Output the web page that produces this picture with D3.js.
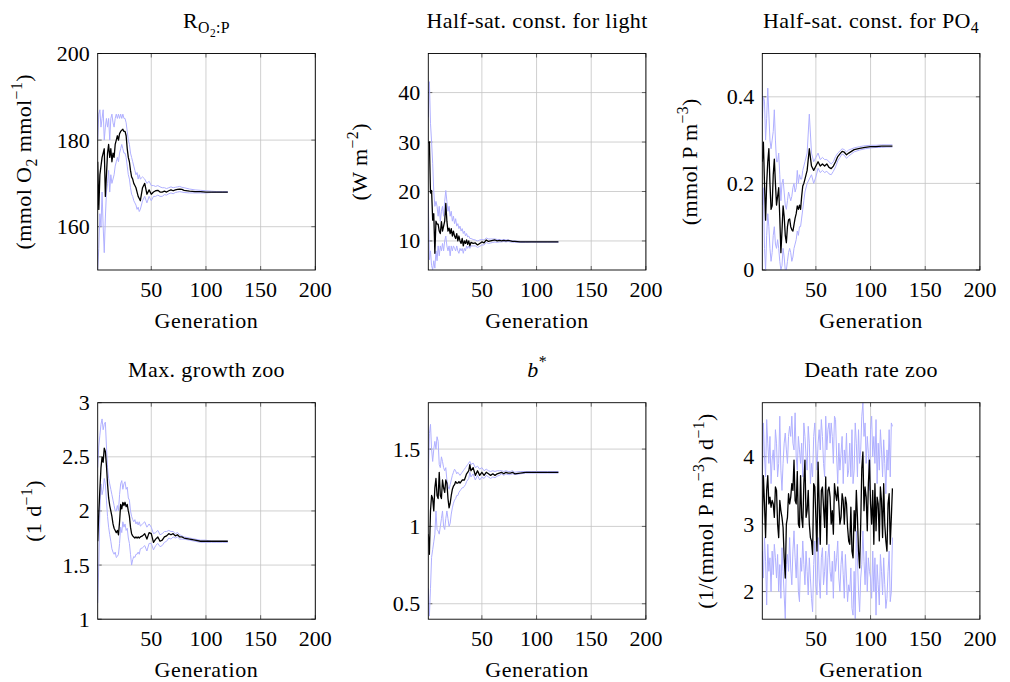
<!DOCTYPE html>
<html>
<head>
<meta charset="utf-8">
<script src="https://cdn.jsdelivr.net/npm/d3@7"></script>
<style>
  body { margin: 0; background: #fff; }
  text { font-family: "Liberation Serif", "Times New Roman", serif; fill: #000; }
</style>
</head>
<body>
<svg id="chart" width="1010" height="682"></svg>
<script>
// generations sampled for the smooth panels (dense early, sparse once converged)
const gens = [1, 2, 3, 4, 5, 6, 7, 8, 9, 10, 11, 12, 13, 14, 15, 16, 17, 18, 19, 20,
  21, 22, 23, 24, 25, 26, 27, 28, 29, 30, 31, 32, 33, 34, 35, 36, 37, 38, 39, 40,
  42, 44, 46, 48, 50, 52, 54, 56, 58, 60, 62, 64, 66, 68, 70, 72, 74, 76, 78, 80,
  85, 90, 95, 100, 105, 110, 115, 120];
// every generation for the noisy death-rate panel
const gensAll = d3.range(1, 121);

// R_O2:P
const rMean = [175, 164, 172, 174, 176, 177, 178, 167, 172, 177, 179, 176, 178, 175, 177, 176, 179, 180, 181, 180,
  181.5, 182, 182.3, 182.5, 182, 182, 181, 178, 176, 175, 173, 171.5, 171, 170, 169.5, 169, 168, 167, 166.5, 166,
  169, 170, 167.5, 168.5, 167.5, 168, 168.3, 168.4, 168, 168, 168.2, 168, 168.3, 168.5, 168.3, 168.5, 168.6, 168.7, 168.6, 168.4,
  168.2, 168.1, 168.1, 168, 168, 168, 168, 168];
const rHi = [180, 186, 187, 183, 185, 187, 180, 183, 185, 183, 185, 180, 185, 186, 184, 183, 185, 186, 185, 186,
  185, 186, 185, 186, 185, 185, 184, 182, 180, 179, 177, 176, 175, 174, 173, 172, 172.5, 171, 172, 171,
  171.5, 171, 170, 170.5, 169.5, 169.5, 169.3, 169.5, 169.2, 169, 169, 168.8, 169, 169.2, 169, 169.1, 169.2, 169.3, 169.1, 169,
  168.7, 168.5, 168.4, 168.3, 168.2, 168.1, 168.1, 168.1];
const rLo = [150, 155, 163, 160, 168, 160, 154, 162, 168, 170, 173, 168, 172, 170, 171, 172, 174, 175, 176, 175,
  177, 178, 179, 178, 177, 177, 176, 174, 172, 171, 169, 167.5, 167, 166, 165.5, 165, 164, 164.5, 163.5, 164,
  166, 167, 165.5, 167, 166, 167, 167, 167.3, 167, 167, 167.4, 167.3, 167.6, 167.8, 167.6, 167.9, 168, 168.1, 168, 167.9,
  167.8, 167.8, 167.8, 167.8, 167.9, 167.9, 167.9, 167.9];

// half-saturation constant for light
const lightMean = [29.8, 30, 19.7, 20.2, 14.2, 15.5, 7.5, 14, 13.4, 13.4, 12, 11.5, 13.9, 12, 13, 14, 17.6, 14, 12, 12.6,
  11.5, 12.5, 11, 12, 11, 10.5, 11.5, 10, 11, 10, 9.5, 10.5, 9, 10, 9.5, 10.2, 9.3, 10, 9, 9.7,
  9.5, 9.6, 9.2, 9.5, 9.8, 9.6, 10.2, 9.9, 10, 10.1, 10.2, 10, 10.1, 10, 10.1, 10, 10.1, 10, 9.9, 9.9,
  9.8, 9.8, 9.8, 9.8, 9.8, 9.8, 9.8, 9.8];
const lightHi = [35, 42.2, 33.8, 30, 25.7, 20, 17, 18, 17, 15, 17, 14, 16, 17, 15, 18, 20.2, 18, 16, 17,
  15, 16, 14, 15, 13.5, 14.5, 13, 13.5, 12.5, 13, 12, 12.5, 11.5, 12, 11, 11.5, 10.8, 11, 10.5, 10.5,
  10.3, 10.2, 10, 10.2, 10.3, 10.2, 10.6, 10.4, 10.4, 10.4, 10.4, 10.3, 10.3, 10.2, 10.3, 10.2, 10.2, 10.1, 10, 10,
  9.9, 9.9, 9.9, 9.85, 9.85, 9.85, 9.85, 9.85];
const lightLo = [18.3, 6.2, 8, 5, 4.2, 6, 4.5, 8, 6, 9, 7, 9, 8, 9.5, 8, 10, 11, 9, 8, 9,
  7, 9, 8, 9, 8.5, 8, 9, 8, 7.5, 8.5, 8, 8.5, 7.5, 8.5, 8, 9, 8.5, 9, 8.5, 9,
  9, 9, 8.7, 8.9, 9.2, 9.2, 9.7, 9.5, 9.6, 9.7, 9.8, 9.7, 9.8, 9.8, 9.9, 9.8, 9.9, 9.8, 9.75, 9.75,
  9.7, 9.7, 9.75, 9.75, 9.75, 9.75, 9.75, 9.75];

// half-saturation constant for PO4
const po4Mean = [0.25, 0.295, 0.2, 0.115, 0.2, 0.25, 0.28, 0.2, 0.14, 0.148, 0.22, 0.256, 0.2, 0.15, 0.17, 0.19, 0.12, 0.04, 0.09, 0.148,
  0.124, 0.08, 0.063, 0.1, 0.116, 0.118, 0.1, 0.093, 0.09, 0.105, 0.12, 0.13, 0.148, 0.14, 0.15, 0.14, 0.17, 0.194, 0.2, 0.21,
  0.23, 0.28, 0.24, 0.23, 0.24, 0.25, 0.24, 0.245, 0.24, 0.245, 0.237, 0.234, 0.24, 0.25, 0.262, 0.268, 0.274, 0.272, 0.266, 0.27,
  0.278, 0.281, 0.283, 0.285, 0.285, 0.286, 0.286, 0.286];
const po4Hi = [0.35, 0.4, 0.39, 0.3, 0.35, 0.42, 0.36, 0.3, 0.28, 0.3, 0.32, 0.37, 0.3, 0.25, 0.25, 0.27, 0.22, 0.16, 0.2, 0.21,
  0.18, 0.15, 0.14, 0.16, 0.18, 0.17, 0.16, 0.17, 0.19, 0.2, 0.18, 0.19, 0.23, 0.2, 0.22, 0.21, 0.21, 0.23, 0.24, 0.25,
  0.27, 0.36, 0.27, 0.25, 0.26, 0.27, 0.255, 0.26, 0.255, 0.255, 0.25, 0.245, 0.25, 0.262, 0.27, 0.275, 0.28, 0.278, 0.273, 0.277,
  0.282, 0.285, 0.287, 0.288, 0.288, 0.289, 0.289, 0.289];
const po4Lo = [0.15, 0.19, 0.05, 0, 0.08, 0.13, 0.1, 0.05, 0.02, 0.04, 0.08, 0.1, 0.06, 0.05, 0.07, 0.05, 0.02, 0, 0.01, 0.05,
  0.03, 0, 0, 0.02, 0.04, 0.05, 0.04, 0.02, 0.03, 0.05, 0.06, 0.07, 0.09, 0.08, 0.1, 0.1, 0.12, 0.14, 0.16, 0.18,
  0.2, 0.21, 0.22, 0.2, 0.215, 0.235, 0.225, 0.23, 0.225, 0.228, 0.222, 0.22, 0.228, 0.238, 0.252, 0.26, 0.268, 0.265, 0.258, 0.263,
  0.273, 0.277, 0.28, 0.282, 0.283, 0.283, 0.284, 0.284];

// max. growth zoo
const growMean = [1.72, 1.98, 2.2, 2.4, 2.5, 2.45, 2.58, 2.55, 2.42, 2.25, 2.12, 2.05, 2.0, 1.95, 1.88, 1.84, 1.82, 1.8, 1.82, 1.78,
  1.9, 2.06, 2.02, 2.08, 2.05, 2.08, 2.04, 2.06, 2.0, 1.95, 1.85, 1.79, 1.77, 1.76, 1.75, 1.76, 1.75, 1.76, 1.75, 1.76,
  1.77, 1.79, 1.74, 1.8, 1.79, 1.71, 1.74, 1.76, 1.72, 1.73, 1.76, 1.77, 1.79, 1.78, 1.79, 1.77, 1.78, 1.76, 1.76, 1.75,
  1.74, 1.73, 1.72, 1.72, 1.72, 1.72, 1.72, 1.72];
const growHi = [2.4, 2.6, 2.7, 2.8, 2.85, 2.75, 2.8, 2.82, 2.6, 2.4, 2.3, 2.25, 2.2, 2.15, 2.1, 2.05, 2.0, 2.0, 2.05, 2.0,
  2.15, 2.25, 2.28, 2.2, 2.25, 2.27, 2.2, 2.22, 2.12, 2.1, 2.0, 1.95, 1.92, 1.9, 1.92, 1.88, 1.9, 1.87, 1.9, 1.86,
  1.88, 1.9, 1.85, 1.88, 1.85, 1.79, 1.8, 1.82, 1.78, 1.79, 1.81, 1.81, 1.82, 1.81, 1.81, 1.79, 1.8, 1.78, 1.77, 1.76,
  1.75, 1.74, 1.73, 1.73, 1.72, 1.72, 1.72, 1.72];
const growLo = [1.15, 1.5, 2.0, 2.25, 2.15, 2.2, 2.3, 2.25, 2.1, 1.95, 1.85, 1.78, 1.72, 1.65, 1.62, 1.6, 1.62, 1.57, 1.58, 1.6,
  1.7, 1.85, 1.8, 1.9, 1.85, 1.88, 1.82, 1.84, 1.75, 1.7, 1.6, 1.5, 1.55, 1.58, 1.57, 1.6, 1.6, 1.62, 1.6, 1.65,
  1.66, 1.68, 1.63, 1.7, 1.7, 1.64, 1.68, 1.7, 1.67, 1.68, 1.71, 1.72, 1.75, 1.74, 1.76, 1.75, 1.76, 1.74, 1.74, 1.74,
  1.73, 1.72, 1.71, 1.71, 1.71, 1.71, 1.71, 1.71];

// b*
const bMean = [0.95, 0.82, 1.1, 1.2, 1.18, 1.1, 1.25, 1.31, 1.2, 1.18, 1.35, 1.2, 1.18, 1.3, 1.25, 1.22, 1.3, 1.28, 1.18, 1.12,
  1.15, 1.2, 1.24, 1.26, 1.27, 1.29, 1.28, 1.28, 1.29, 1.28, 1.29, 1.3, 1.3, 1.3, 1.32, 1.34, 1.35, 1.36, 1.4, 1.36,
  1.38, 1.33, 1.36, 1.33, 1.35, 1.33, 1.35, 1.34, 1.33, 1.34, 1.33, 1.34, 1.345, 1.35, 1.34, 1.35, 1.345, 1.345, 1.35, 1.34,
  1.345, 1.35, 1.35, 1.35, 1.35, 1.35, 1.35, 1.35];
const bHi = [1.3, 1.6, 1.66, 1.5, 1.42, 1.5, 1.55, 1.5, 1.58, 1.55, 1.4, 1.38, 1.45, 1.42, 1.38, 1.36, 1.38, 1.3, 1.26, 1.24,
  1.27, 1.3, 1.33, 1.35, 1.37, 1.36, 1.34, 1.35, 1.34, 1.33, 1.34, 1.35, 1.36, 1.37, 1.38, 1.39, 1.4, 1.41, 1.42, 1.4,
  1.41, 1.38, 1.39, 1.37, 1.38, 1.36, 1.37, 1.36, 1.355, 1.36, 1.355, 1.36, 1.36, 1.36, 1.355, 1.36, 1.355, 1.355, 1.36, 1.35,
  1.355, 1.355, 1.355, 1.355, 1.355, 1.355, 1.355, 1.355];
const bLo = [0.6, 0.42, 0.6, 0.8, 0.85, 0.9, 0.95, 1.1, 0.98, 0.97, 0.95, 1.0, 1.05, 1.1, 1.0, 0.98, 1.05, 1.1, 1.05, 1.0,
  1.02, 1.08, 1.12, 1.15, 1.17, 1.18, 1.2, 1.2, 1.22, 1.23, 1.24, 1.25, 1.25, 1.26, 1.27, 1.29, 1.3, 1.31, 1.35, 1.32,
  1.34, 1.3, 1.33, 1.3, 1.32, 1.31, 1.33, 1.32, 1.31, 1.32, 1.315, 1.325, 1.33, 1.34, 1.33, 1.34, 1.335, 1.335, 1.34, 1.335,
  1.34, 1.345, 1.345, 1.345, 1.345, 1.345, 1.345, 1.345];

// death rate zoo (one value per generation)
const deathMean = [3.0, 3.72, 3.3, 2.8, 3.5, 3.72, 3.3, 3.4, 3.25, 3.35, 3.3, 3.1, 3.55, 3.5, 3.0, 2.8, 3.35, 3.2, 3.1, 2.95,
  2.5, 2.2, 3.0, 3.1, 3.45, 3.3, 3.4, 3.6, 3.5, 3.95, 3.35, 3.3, 3.78, 3.0, 2.95, 3.72, 3.1, 2.95, 3.6, 3.95,
  3.1, 3.2, 3.5, 3.0, 2.8, 2.75, 2.55, 3.6, 3.55, 3.1, 2.6, 3.92, 3.3, 2.7, 3.5, 3.55, 3.25, 2.95, 3.7, 2.7,
  3.5, 3.55, 3.4, 3.0, 3.2, 2.85, 3.6, 3.45, 3.35, 3.55, 3.3, 3.0, 3.1, 3.45, 3.35, 3.0, 3.4, 3.3, 2.95, 2.75,
  2.7, 3.25, 2.6, 2.5, 3.2, 2.9, 3.5, 3.1, 2.6, 2.35, 3.0, 3.83, 4.07, 3.2, 3.55, 3.4, 2.9, 3.6, 3.95, 3.3,
  3.0, 3.5, 2.7, 3.6, 2.9, 3.4, 3.3, 2.75, 3.55, 3.35, 2.8, 3.6, 3.0, 2.75, 2.6, 3.3, 3.45, 2.7, 3.1, 3.53];
const deathHi = [3.6, 4.5, 4.0, 3.7, 4.55, 4.2, 3.9, 4.3, 3.6, 3.95, 4.1, 3.8, 4.4, 4.2, 3.7, 3.9, 4.6, 3.8, 3.5, 3.9,
  4.2, 4.35, 4.1, 3.9, 4.3, 4.45, 4.3, 4.6, 4.2, 4.1, 4.65, 4.0, 3.8, 4.3, 4.1, 3.9, 4.2, 3.7, 4.5, 4.3,
  4.0, 3.8, 4.45, 4.2, 3.6, 3.9, 3.7, 4.3, 4.5, 4.1, 3.8, 4.2, 4.4, 4.1, 4.55, 4.3, 3.9, 3.7, 4.6, 4.1,
  4.4, 4.5, 4.2, 4.5, 4.3, 3.9, 4.6, 4.55, 4.0, 3.6, 4.2, 3.8, 4.05, 4.3, 3.6, 4.1, 3.9, 4.35, 3.7, 3.8,
  4.2, 3.7, 4.4, 3.6, 3.8, 4.5, 4.2, 3.7, 4.4, 3.9, 4.1, 4.6, 4.8, 4.3, 4.5, 3.9, 4.3, 4.05, 3.5, 4.4,
  4.6, 4.0, 4.3, 3.9, 4.55, 3.6, 4.2, 3.8, 4.4, 4.1, 3.7, 4.25, 3.9, 3.45, 4.1, 3.8, 4.4, 3.7, 4.5, 4.45];
const deathLo = [2.6, 2.2, 2.8, 2.45, 1.8, 2.7, 2.3, 2.5, 2.0, 2.6, 2.25, 2.7, 2.5, 2.2, 2.55, 2.0, 2.4, 1.9, 2.65, 2.3,
  1.95, 1.6, 2.4, 2.55, 2.3, 2.8, 2.35, 2.1, 2.6, 2.9, 2.5, 2.2, 2.7, 2.0, 1.85, 2.5, 2.3, 2.75, 2.4, 2.1,
  2.6, 2.3, 1.95, 2.5, 2.2, 1.9, 1.7, 2.4, 2.75, 2.1, 1.95, 2.8, 2.2, 1.9, 2.5, 2.65, 2.1, 2.3, 2.6, 1.95,
  2.5, 2.7, 2.3, 2.15, 2.45, 1.9, 2.6, 2.3, 2.5, 2.75, 2.2, 2.0, 2.4, 2.6, 2.25, 1.9, 2.55, 2.2, 1.85, 2.1,
  2.0, 2.35, 1.75, 1.65, 2.3, 1.6, 2.9, 2.5, 2.0, 1.7, 2.2, 2.4, 2.9, 2.45, 2.1, 2.6, 2.0, 2.5, 2.3, 2.2,
  1.9, 2.6, 2.0, 2.5, 1.65, 2.4, 2.1, 1.8, 2.55, 2.3, 1.95, 2.5, 2.1, 1.75, 1.9, 2.3, 2.6, 1.85, 2.0, 2.8];

const xTicks = [50, 100, 150, 200];

// text pieces: [string, level]  level 0 normal, 1 superscript, -1 subscript, -2 second-level subscript
const panels = [
  { title: [["R", 0], ["O", -1], ["2", -2], [":P", -1]],
    ylabel: [["(mmol O", 0], ["2", -1], [" mmol", 0], ["−1", 1], [")", 0]],
    x: gens, mean: rMean, hi: rHi, lo: rLo, yDomain: [150, 200], yTicks: [160, 180, 200],
    left: 97.7, top: 53.5, ylabX: 31 },
  { title: [["Half-sat. const. for light", 0]],
    ylabel: [["(W m", 0], ["−2", 1], [")", 0]],
    x: gens, mean: lightMean, hi: lightHi, lo: lightLo, yDomain: [4.13, 47.9], yTicks: [10, 20, 30, 40],
    left: 428.3, top: 53.5, ylabX: 367 },
  { title: [["Half-sat. const. for PO", 0], ["4", -1]],
    ylabel: [["(mmol P m", 0], ["−3", 1], [")", 0]],
    x: gens, mean: po4Mean, hi: po4Hi, lo: po4Lo, yDomain: [0, 0.5], yTicks: [0, 0.2, 0.4],
    left: 762.3, top: 53.5, ylabX: 697 },
  { title: [["Max. growth zoo", 0]],
    ylabel: [["(1 d", 0], ["−1", 1], [")", 0]],
    x: gens, mean: growMean, hi: growHi, lo: growLo, yDomain: [1, 3], yTicks: [1, 1.5, 2, 2.5, 3],
    left: 97.7, top: 402.7, ylabX: 41 },
  { title: [["b", 0, true], ["*", 1]],
    ylabel: null,
    x: gens, mean: bMean, hi: bHi, lo: bLo, yDomain: [0.4, 1.8], yTicks: [0.5, 1, 1.5],
    left: 428.3, top: 402.7, ylabX: 0 },
  { title: [["Death rate zoo", 0]],
    ylabel: [["(1/(mmol P m", 0], ["−3", 1], [") d", 0], ["−1", 1], [")", 0]],
    x: gensAll, mean: deathMean, hi: deathHi, lo: deathLo, yDomain: [1.59, 4.8], yTicks: [2, 3, 4],
    left: 762.3, top: 402.7, ylabX: 713 }
];

const W = 217.6, H = 216.5, FS = 22;
const svg = d3.select("#chart");

function richText(sel, parts, size) {
  const shift = { 0: 0, 1: -0.42, "-1": 0.25, "-2": 0.45 };
  const scale = { 0: 1, 1: 0.72, "-1": 0.72, "-2": 0.52 };
  let cur = 0;
  parts.forEach(([str, lvl, italic]) => {
    const s = shift[lvl] * size;
    sel.append("tspan")
      .attr("dy", s - cur)
      .attr("font-size", scale[lvl] * size)
      .attr("font-style", italic ? "italic" : null)
      .text(str);
    cur = s;
  });
}

panels.forEach((p, i) => {
  const x = d3.scaleLinear().domain([1, 200]).range([0, W]);
  const y = d3.scaleLinear().domain(p.yDomain).range([H, 0]);
  const g = svg.append("g").attr("transform", `translate(${p.left},${p.top})`);

  svg.append("defs").append("clipPath").attr("id", "clip" + i)
    .append("rect").attr("width", W).attr("height", H);

  // grid
  g.selectAll(".gx").data(xTicks).join("line")
    .attr("x1", d => x(d)).attr("x2", d => x(d)).attr("y1", 0).attr("y2", H)
    .attr("stroke", "#c4c4c4").attr("stroke-width", 0.8);
  g.selectAll(".gy").data(p.yTicks).join("line")
    .attr("x1", 0).attr("x2", W).attr("y1", d => y(d)).attr("y2", d => y(d))
    .attr("stroke", "#c4c4c4").attr("stroke-width", 0.8);

  // tick marks on all four sides (pointing inwards)
  const tk = 4;
  xTicks.forEach(t => {
    g.append("line").attr("x1", x(t)).attr("x2", x(t)).attr("y1", H).attr("y2", H - tk)
      .attr("stroke", "#444").attr("stroke-width", 0.8);
    g.append("line").attr("x1", x(t)).attr("x2", x(t)).attr("y1", 0).attr("y2", tk)
      .attr("stroke", "#444").attr("stroke-width", 0.8);
  });
  p.yTicks.forEach(t => {
    g.append("line").attr("x1", 0).attr("x2", tk).attr("y1", y(t)).attr("y2", y(t))
      .attr("stroke", "#444").attr("stroke-width", 0.8);
    g.append("line").attr("x1", W).attr("x2", W - tk).attr("y1", y(t)).attr("y2", y(t))
      .attr("stroke", "#444").attr("stroke-width", 0.8);
  });

  // series
  const plot = g.append("g").attr("clip-path", `url(#clip${i})`);
  const mk = vals => d3.line().x((d, j) => x(p.x[j])).y(d => y(d))(vals);
  plot.append("path").attr("d", mk(p.hi)).attr("fill", "none")
    .attr("stroke", "#b0b0ff").attr("stroke-width", 1);
  plot.append("path").attr("d", mk(p.lo)).attr("fill", "none")
    .attr("stroke", "#b0b0ff").attr("stroke-width", 1);
  plot.append("path").attr("d", mk(p.mean)).attr("fill", "none")
    .attr("stroke", "#000").attr("stroke-width", 1.3).attr("stroke-linejoin", "round");

  // frame
  g.append("rect").attr("width", W).attr("height", H)
    .attr("fill", "none").attr("stroke", "#000").attr("stroke-width", 0.9);

  // tick labels
  g.selectAll(".xl").data(xTicks).join("text")
    .attr("x", d => x(d)).attr("y", H + 27)
    .attr("text-anchor", "middle").attr("font-size", FS)
    .text(d => d);
  g.selectAll(".yl").data(p.yTicks).join("text")
    .attr("x", -8).attr("y", d => y(d)).attr("dy", "0.34em")
    .attr("text-anchor", "end").attr("font-size", FS)
    .text(d => d);

  // x label
  g.append("text").attr("x", W / 2).attr("y", H + 58)
    .attr("text-anchor", "middle").attr("font-size", FS)
    .attr("letter-spacing", 0.6)
    .text("Generation");

  // title
  const t = g.append("text").attr("x", W / 2).attr("y", -26)
    .attr("text-anchor", "middle").attr("font-size", FS).attr("letter-spacing", 0.4);
  richText(t, p.title, FS);

  // y label
  if (p.ylabel) {
    const yl = svg.append("text")
      .attr("transform", `translate(${p.ylabX},${p.top + H / 2}) rotate(-90)`)
      .attr("text-anchor", "middle").attr("font-size", FS).attr("letter-spacing", 0.4)
      .attr("dy", "0.35em");
    richText(yl, p.ylabel, FS);
  }
});
</script>
</body>
</html>
